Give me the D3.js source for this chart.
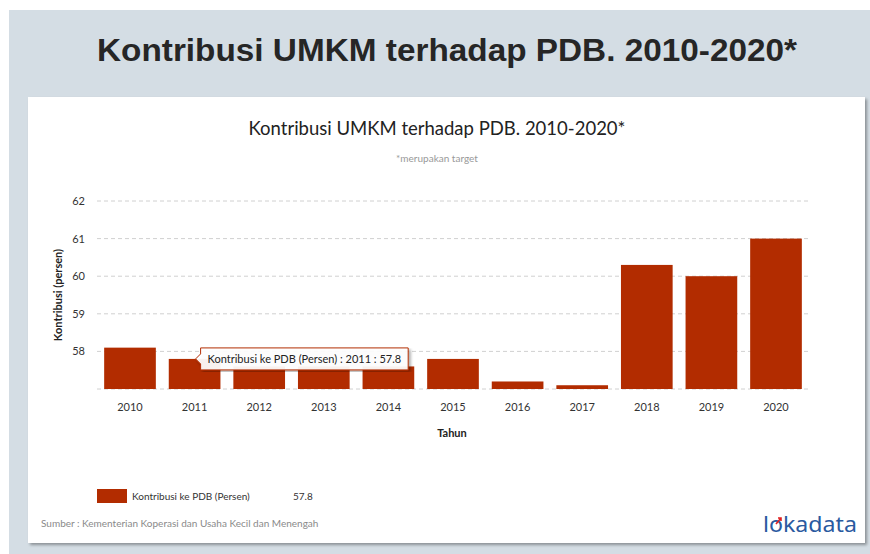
<!DOCTYPE html>
<html>
<head>
<meta charset="utf-8">
<script src="https://cdn.jsdelivr.net/npm/d3@7"></script>
<style>
  body { margin: 0; background: #fff; }
  svg { display: block; }
</style>
</head>
<body>
<div id="chart"></div>
<script>
const years = ["2010", "2011", "2012", "2013", "2014", "2015", "2016", "2017", "2018", "2019", "2020"];
const kontribusi = [58.1, 57.8, 57.6, 57.6, 57.6, 57.8, 57.2, 57.1, 60.3, 60.0, 61.0];
const yTicks = [58, 59, 60, 61, 62];
const seriesName = "Kontribusi ke PDB (Persen)";
const mainTitle = "Kontribusi UMKM terhadap PDB. 2010-2020*";
const subTitle = "*merupakan target";
const source = "Sumber : Kementerian Koperasi dan Usaha Kecil dan Menengah";
const hoverIndex = 1;

const W = 870, H = 554;
const barColor = "#b22c00";
const font = "Lato, 'Open Sans', sans-serif";

const svg = d3.select("#chart")
    .append("svg")
    .attr("width", W)
    .attr("height", H);

const defs = svg.append("defs");
const shadow = defs.append("filter").attr("id", "shadow")
    .attr("x", "-5%").attr("y", "-5%").attr("width", "110%").attr("height", "110%");
shadow.append("feGaussianBlur").attr("in", "SourceAlpha").attr("stdDeviation", 1.5);
shadow.append("feOffset").attr("dx", 2).attr("dy", 2).attr("result", "ob");
shadow.append("feComponentTransfer").append("feFuncA").attr("type", "linear").attr("slope", 0.35);
const merge = shadow.append("feMerge");
merge.append("feMergeNode");
merge.append("feMergeNode").attr("in", "SourceGraphic");

// slide background
svg.append("rect").attr("x", 9).attr("y", 10).attr("width", W - 9).attr("height", H - 10)
    .attr("fill", "#d4dde4");

svg.append("text")
    .attr("x", 447).attr("y", 61)
    .attr("text-anchor", "middle")
    .attr("textLength", 700)
    .attr("lengthAdjust", "spacingAndGlyphs")
    .style("font-family", "'Liberation Sans', Arial, sans-serif")
    .style("font-weight", "bold")
    .style("font-size", "32px")
    .style("fill", "#262626")
    .text(mainTitle);

// card
svg.append("rect").attr("x", 28).attr("y", 97).attr("width", 837).attr("height", 446)
    .attr("fill", "#fff")
    .attr("filter", "url(#shadow)");

svg.append("text")
    .attr("x", 437).attr("y", 135)
    .attr("text-anchor", "middle")
    .style("font-family", font)
    .style("font-size", "18.5px")
    .style("fill", "#222")
    .text(mainTitle);

svg.append("text")
    .attr("x", 437).attr("y", 162)
    .attr("text-anchor", "middle")
    .style("font-family", font)
    .style("font-size", "10px")
    .style("fill", "#999")
    .text(subTitle);

const x = d3.scaleBand()
    .domain(years)
    .range([97.7, 808.3])
    .paddingInner(0.2)
    .paddingOuter(0.1);

const y = d3.scaleLinear()
    .domain([57, 62])
    .range([389, 201]);

// gridlines
svg.append("g")
    .selectAll("line")
    .data([57].concat(yTicks))
    .enter()
    .append("line")
    .attr("x1", 97).attr("x2", 810)
    .attr("y1", d => y(d)).attr("y2", d => y(d))
    .attr("stroke", "#d0d0d0")
    .attr("stroke-dasharray", "4,3");

// y axis labels
const yAxis = svg.append("g")
    .attr("transform", "translate(97,0)")
    .call(d3.axisLeft(y).tickValues(yTicks).tickFormat(d3.format("d")).tickSize(0).tickPadding(12));
yAxis.select(".domain").remove();
yAxis.selectAll("text")
    .style("font-family", font)
    .style("font-size", "11px")
    .style("fill", "#333");

// x axis labels
const xAxis = svg.append("g")
    .attr("transform", "translate(0,389)")
    .call(d3.axisBottom(x).tickSize(0).tickPadding(14));
xAxis.select(".domain").remove();
xAxis.selectAll("text")
    .style("font-family", font)
    .style("font-size", "11px")
    .style("fill", "#333");

svg.append("text")
    .attr("transform", "translate(62,295) rotate(-90)")
    .attr("text-anchor", "middle")
    .style("font-family", font)
    .style("font-weight", "bold")
    .style("font-size", "11px")
    .style("fill", "#222")
    .text("Kontribusi (persen)");

svg.append("text")
    .attr("x", 452).attr("y", 437)
    .attr("text-anchor", "middle")
    .style("font-family", font)
    .style("font-weight", "bold")
    .style("font-size", "11px")
    .style("fill", "#222")
    .text("Tahun");

// bars
svg.append("g")
    .selectAll("rect")
    .data(years.map((yr, i) => ({year: yr, value: kontribusi[i]})))
    .enter()
    .append("rect")
    .attr("x", d => x(d.year))
    .attr("y", d => y(d.value))
    .attr("width", x.bandwidth())
    .attr("height", d => y(57) - y(d.value))
    .attr("fill", barColor);

// tooltip for hovered bar
const tipX = x(years[hoverIndex]) + x.bandwidth() / 2 + 1;
const tipY = y(kontribusi[hoverIndex]);
const tipLabel = `${seriesName} : ${years[hoverIndex]} : ${kontribusi[hoverIndex]}`;
const tip = svg.append("g");
const tipText = tip.append("text")
    .attr("x", tipX + 12).attr("y", tipY + 4)
    .style("font-family", font)
    .style("font-size", "11px")
    .style("fill", "#222")
    .text(tipLabel);
const tw = tipText.node().getComputedTextLength();
const boxX = tipX + 5, boxW = tw + 14, boxTop = tipY - 11, boxH = 22;
tip.insert("path", "text")
    .attr("d", `M${boxX},${boxTop} H${boxX + boxW} V${boxTop + boxH} H${boxX} V${tipY + 5} L${tipX},${tipY} L${boxX},${tipY - 5} Z`)
    .attr("fill", "rgba(255,255,255,0.92)")
    .attr("stroke", barColor)
    .attr("stroke-width", 1)
    .attr("filter", "url(#shadow)");

// legend
const legend = svg.append("g").attr("transform", "translate(97,489)");
legend.append("rect").attr("width", 30).attr("height", 14).attr("fill", barColor);
legend.append("text")
    .attr("x", 35).attr("y", 11)
    .style("font-family", font)
    .style("font-size", "10px")
    .style("fill", "#333")
    .text(seriesName);
legend.append("text")
    .attr("x", 196).attr("y", 11)
    .style("font-family", font)
    .style("font-size", "10px")
    .style("fill", "#333")
    .text(kontribusi[hoverIndex]);

svg.append("text")
    .attr("x", 41).attr("y", 527)
    .style("font-family", font)
    .style("font-size", "10px")
    .style("fill", "#8a8a8a")
    .text(source);

// logo
const logo = svg.append("g");
logo.append("text")
    .attr("x", 763).attr("y", 532)
    .attr("textLength", 94)
    .attr("lengthAdjust", "spacingAndGlyphs")
    .style("font-family", "'Noto Sans', sans-serif")
    .style("font-size", "21px")
    .style("fill", "#2a5aa0")
    .text("lokadata");
logo.append("path")
    .attr("d", "M776,524 L781,518 M778,518 L781,518 L781,521")
    .attr("stroke", "#e02020")
    .attr("stroke-width", 1.6)
    .attr("fill", "none");
</script>
</body>
</html>
